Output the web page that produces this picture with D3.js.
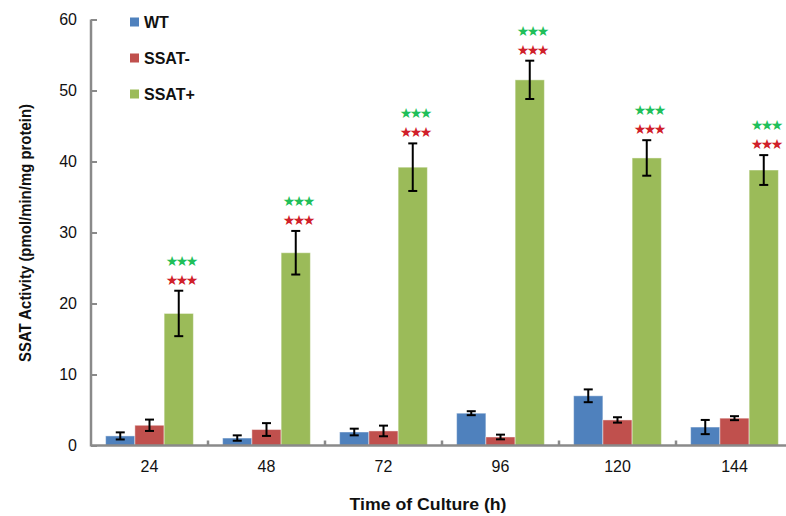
<!DOCTYPE html>
<html>
<head>
<meta charset="utf-8">
<script src="https://cdn.jsdelivr.net/npm/d3@7"></script>
<style>
  html, body { margin: 0; padding: 0; background: #fff; }
  svg { display: block; }
  text { font-family: "Liberation Sans", Arial, sans-serif; }
</style>
</head>
<body>
<svg id="chart" width="786" height="516"></svg>
<script>
// Culture time points (h)
const categories = ["24", "48", "72", "96", "120", "144"];
const seriesNames = ["WT", "SSAT-", "SSAT+"];
// Mean SSAT activity (pmol/min/mg protein)
const wtValues    = [1.35, 1.05, 1.9, 4.55, 7.0, 2.6];
const ssatMinus   = [2.85, 2.25, 2.05, 1.2, 3.6, 3.85];
const ssatPlus    = [18.6, 27.15, 39.2, 51.5, 40.5, 38.8];
// Standard errors
const wtErr       = [0.5, 0.38, 0.47, 0.28, 0.9, 1.0];
const minusErr    = [0.8, 0.9, 0.75, 0.33, 0.38, 0.28];
const plusErr     = [3.2, 3.07, 3.35, 2.7, 2.5, 2.1];
// Significance markers over SSAT+ bars (vs WT and vs SSAT-)
const sigVsWT     = ["***", "***", "***", "***", "***", "***"];
const sigVsMinus  = ["***", "***", "***", "***", "***", "***"];
const yTicks      = [0, 10, 20, 30, 40, 50, 60];

const colors = ["#4f81bd", "#c0504d", "#9bbb59"];
const axisColor = "#8a8a8a";

const svg = d3.select("#chart");
const margin = { left: 91, top: 19.5, bottom: 445.5, right: 793 };

const x0 = d3.scaleBand().domain(categories).range([margin.left, margin.right]).paddingInner(0).paddingOuter(0);
const x1 = d3.scaleBand().domain(seriesNames).range([0, x0.bandwidth()]).paddingOuter(0.5).paddingInner(0);
const y = d3.scaleLinear().domain([0, 60]).range([margin.bottom, margin.top]);

const values = [wtValues, ssatMinus, ssatPlus];
const errors = [wtErr, minusErr, plusErr];

const rows = [];
categories.forEach((c, i) => {
  seriesNames.forEach((s, j) => {
    rows.push({ cat: c, series: s, idx: j, value: values[j][i], err: errors[j][i] });
  });
});

// Bars
const g = svg.append("g");
g.selectAll("rect.bar").data(rows).join("rect")
  .attr("class", "bar")
  .attr("x", d => x0(d.cat) + x1(d.series))
  .attr("y", d => y(d.value))
  .attr("width", x1.bandwidth())
  .attr("height", d => y(0) - y(d.value))
  .attr("fill", d => colors[d.idx])
  .attr("stroke", "rgba(255,255,255,0.45)")
  .attr("stroke-width", 1);

// Error bars
const capW = 9;
const eb = g.selectAll("g.err").data(rows).join("g").attr("class", "err")
  .attr("transform", d => `translate(${x0(d.cat) + x1(d.series) + x1.bandwidth() / 2},0)`);
eb.append("line")
  .attr("y1", d => y(d.value + d.err)).attr("y2", d => y(d.value - d.err))
  .attr("stroke", "#000").attr("stroke-width", 2);
eb.append("line")
  .attr("x1", -capW / 2).attr("x2", capW / 2)
  .attr("y1", d => y(d.value + d.err)).attr("y2", d => y(d.value + d.err))
  .attr("stroke", "#000").attr("stroke-width", 2);
eb.append("line")
  .attr("x1", -capW / 2).attr("x2", capW / 2)
  .attr("y1", d => y(d.value - d.err)).attr("y2", d => y(d.value - d.err))
  .attr("stroke", "#000").attr("stroke-width", 2);

// Significance stars above SSAT+ bars
const starRows = categories.map((c, i) => ({ cat: c, top: ssatPlus[i] + plusErr[i], a: sigVsMinus[i], b: sigVsWT[i] }));
const starX = d => x0(d.cat) + x1("SSAT+") + x1.bandwidth() / 2 + 2;
const star = s => s.replace(/\*/g, "\u2605");
function drawStars(cls, key, dy, color) {
  svg.selectAll("text." + cls).data(starRows).join("text")
    .attr("class", cls)
    .attr("x", starX).attr("y", d => y(d.top) - dy)
    .attr("text-anchor", "middle")
    .style("font-family", "'DejaVu Sans', sans-serif")
    .style("font-size", "14px")
    .style("letter-spacing", "-2.5px")
    .attr("fill", color)
    .text(d => star(d[key]));
}
drawStars("sigRed", "a", 6, "#d0202a");
drawStars("sigGreen", "b", 25, "#1fbf5a");

// Y axis
const yAxis = svg.append("g")
  .attr("transform", `translate(${margin.left},0)`)
  .call(d3.axisRight(y).tickValues(yTicks).tickSize(6).tickFormat(d3.format("d")));
yAxis.select(".domain").remove();
yAxis.selectAll(".tick line").attr("stroke", axisColor).attr("stroke-width", 2);
yAxis.selectAll(".tick text")
  .attr("x", -14).attr("text-anchor", "end")
  .style("font-size", "16px").attr("fill", "#111");
svg.append("line")
  .attr("x1", margin.left).attr("x2", margin.left)
  .attr("y1", y(60)).attr("y2", y(0) + 1)
  .attr("stroke", axisColor).attr("stroke-width", 2.5);

// X axis
const xAxis = svg.append("g")
  .attr("transform", `translate(0,${y(0)})`)
  .call(d3.axisBottom(x0).tickSize(0).tickPadding(15));
xAxis.select(".domain").remove();
xAxis.selectAll(".tick text").style("font-size", "16px").attr("fill", "#111");
svg.append("line")
  .attr("x1", margin.left).attr("x2", 786)
  .attr("y1", y(0)).attr("y2", y(0))
  .attr("stroke", axisColor).attr("stroke-width", 2.5);
// Category boundary ticks
svg.selectAll("line.bound").data(categories.slice(1)).join("line")
  .attr("class", "bound")
  .attr("x1", d => x0(d)).attr("x2", d => x0(d))
  .attr("y1", y(0)).attr("y2", y(0) - 5)
  .attr("stroke", axisColor).attr("stroke-width", 2.5);

// Axis titles
svg.append("text")
  .attr("x", 428).attr("y", 510)
  .attr("text-anchor", "middle")
  .attr("textLength", 157).attr("lengthAdjust", "spacingAndGlyphs")
  .style("font-size", "16px").style("font-weight", "bold").attr("fill", "#111")
  .text("Time of Culture (h)");
svg.append("text")
  .attr("transform", "translate(31,233) rotate(-90)")
  .attr("text-anchor", "middle")
  .attr("textLength", 258).attr("lengthAdjust", "spacingAndGlyphs")
  .style("font-size", "17px").style("font-weight", "bold").attr("fill", "#111")
  .text("SSAT Activity (pmol/min/mg protein)");

// Legend
const legend = svg.append("g").selectAll("g").data(seriesNames).join("g")
  .attr("transform", (d, i) => `translate(130,${17.5 + i * 36})`);
legend.append("rect").attr("width", 9).attr("height", 9).attr("fill", (d, i) => colors[i]);
legend.append("text")
  .attr("x", 14).attr("y", 10.5)
  .style("font-size", "16px").style("font-weight", "bold").attr("fill", "#111")
  .text(d => d);
</script>
</body>
</html>
